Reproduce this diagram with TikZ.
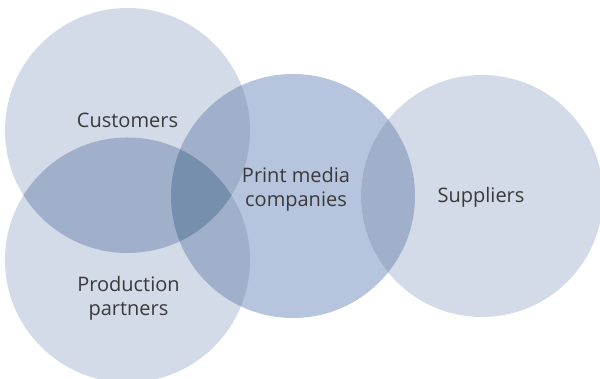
\documentclass[tikz,border=0pt]{standalone}
\usepackage{fontspec}
\setmainfont{Open Sans}
\definecolor{lightc}{RGB}{211,218,232}
\definecolor{midc}{RGB}{182,197,221}
\definecolor{dblc}{RGB}{160,176,202}
\definecolor{tplc}{RGB}{117,143,173}
\definecolor{txtc}{RGB}{58,58,58}
\begin{document}
\begin{tikzpicture}[x=1pt,y=1pt,
  setc/.style={circle,inner sep=0pt,minimum size=#1},
  lbl/.style={text=txtc,font=\fontsize{20}{24}\selectfont,align=center,inner sep=0pt}]
\useasboundingbox (0,0) rectangle (600,379);
% circles
\node[setc=245pt,fill=lightc] (cust) at (127.5,248.5) {};
\node[setc=245pt,fill=lightc] (prod) at (127.5,119) {};
\node[setc=244pt,fill=midc] (print) at (293,183) {};
\node[setc=242pt,fill=lightc] (supp) at (482,183) {};
% pairwise overlaps
\begin{scope}
  \clip (127.5,248.5) circle (122.5);
  \fill[dblc] (127.5,119) circle (122.5);
  \fill[dblc] (293,183) circle (122);
\end{scope}
\begin{scope}
  \clip (127.5,119) circle (122.5);
  \fill[dblc] (293,183) circle (122);
\end{scope}
\begin{scope}
  \clip (293,183) circle (122);
  \fill[dblc] (482,183) circle (121);
\end{scope}
% triple overlap
\begin{scope}
  \clip (127.5,248.5) circle (122.5);
  \clip (127.5,119) circle (122.5);
  \fill[tplc] (293,183) circle (122);
\end{scope}
% labels
\node[lbl,anchor=base] (tcust) at (127.5,251) {Customers};
\node[lbl,anchor=base] (tsupp) at (481,176) {Suppliers};
\node[lbl] (tprint) at (296,189.5) {Print media\\companies};
\node[lbl] (tprod) at (128.5,81) {Production\\partners};
\end{tikzpicture}
\end{document}
